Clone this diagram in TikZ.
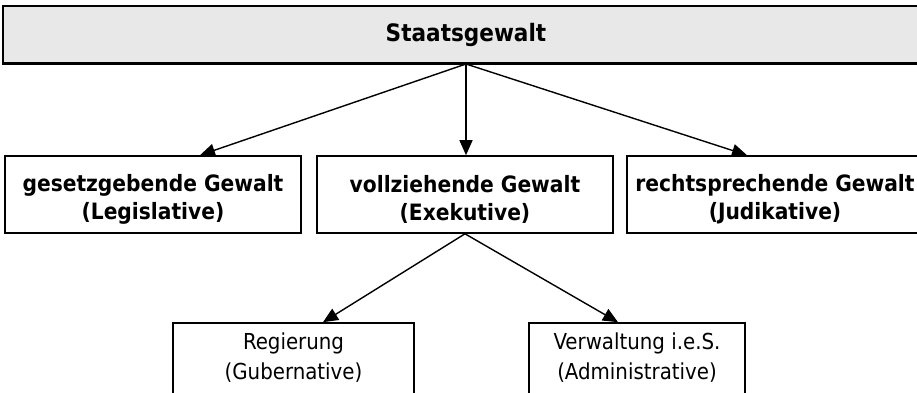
\documentclass[tikz,border=0pt]{standalone}
\usepackage{fontspec}
\setmainfont{DejaVu Sans Condensed}
\usetikzlibrary{arrows.meta,calc}
\definecolor{topgray}{HTML}{E8E8E8}
\begin{document}
\begin{tikzpicture}[x=1pt,y=1pt,
  box/.style={draw=black, line width=1.6pt, rectangle, inner sep=0pt},
  bbox/.style={box, minimum width=296pt, minimum height=77pt},
  sbox/.style={box, minimum height=72pt},
  btxt/.style={align=center, inner sep=0pt, font=\bfseries\fontsize{22.5}{28}\selectfont},
  stxt/.style={align=center, inner sep=0pt, font=\fontsize{22}{30}\selectfont},
  arr/.style={line width=1.4pt, -{Triangle[length=15pt,width=13pt]}}]
\useasboundingbox (0,0) rectangle (917,393);
\node[box, fill=topgray, line width=2pt, minimum width=926pt, minimum height=57pt,
  font=\bfseries\fontsize{24}{29}\selectfont] (top) at (466,358.5) {Staatsgewalt};
\draw[line width=3pt] (top.south west) -- (top.south east);
\node[bbox] (leg) at (153,198.5) {};
\node[bbox] (exe) at (465,198.5) {};
\node[bbox] (jud) at (775,198.5) {};
\node[btxt] (legt) at ($(leg)+(0,-5)$) {gesetzgebende Gewalt\\(Legislative)};
\node[btxt] (exet) at ($(exe)+(0,-5)$) {vollziehende Gewalt\\(Exekutive)};
\node[btxt] (judt) at ($(jud)+(0,-5)$) {rechtsprechende Gewalt\\(Judikative)};
\node[sbox, minimum width=241pt] (reg) at (293.5,34) {};
\node[sbox, minimum width=216pt] (verw) at (637,34) {};
\node[stxt] (regt) at ($(reg)+(0,1)$) {Regierung\\(Gubernative)};
\node[stxt] (verwt) at ($(verw)+(0,1)$) {Verwaltung i.e.S.\\(Administrative)};
\draw[arr] (top.south) -- ($(leg.north)+(47,0)$);
\draw[arr] (top.south) -- ($(exe.north)+(1,0)$);
\draw[arr] (top.south) -- ($(jud.north)+(-28,0)$);
\draw[arr] (exe.south) -- ($(reg.north)+(29.5,0)$);
\draw[arr] (exe.south) -- ($(verw.north)+(-19,0)$);
\end{tikzpicture}
\end{document}
